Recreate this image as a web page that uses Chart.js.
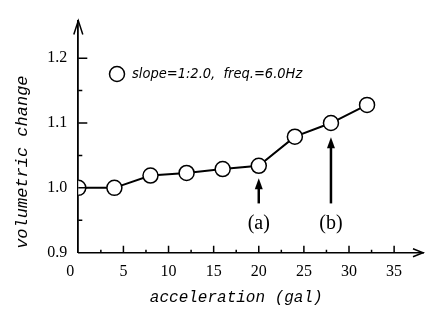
<!DOCTYPE html>
<html>
<head>
<meta charset="utf-8">
<script src="https://cdn.jsdelivr.net/npm/chart.js@4.4.0/dist/chart.umd.min.js"></script>
<style>
  html, body { margin: 0; padding: 0; background: #fff; }
  #wrap { width: 432px; height: 312px; }
</style>
</head>
<body>
<div id="wrap"><canvas id="volChart" width="432" height="312"></canvas></div>
<script>
// volumetric change vs input acceleration (slope 1:2.0, 6.0 Hz)
const accel = [0, 4, 8, 12, 16, 20, 24, 28, 32];
const volChange = [1.000, 1.000, 1.019, 1.023, 1.029, 1.034, 1.079, 1.100, 1.128];

const xMajor = [0, 5, 10, 15, 20, 25, 30, 35];
const xLabels = ['0', '5', '10', '15', '20', '25', '30', '35'];
const xMinor = [2.5, 7.5, 12.5, 17.5, 22.5, 27.5, 32.5];

const yMajor = [0.9, 1.0, 1.1, 1.2];
const yLabels = ['0.9', '1.0', '1.1', '1.2'];
const yMinor = [0.95, 1.05, 1.15];

// arrows pointing at (a) and (b)
const calloutX = [20, 28];
const calloutTail = [0.976, 0.976];
const calloutTip = [1.015, 1.078];
const calloutText = ['(a)', '(b)'];
const calloutTextY = 0.945;

const seriesLabel = 'slope=1:2.0,  freq.=6.0Hz';

const axisDecor = {
  id: 'axisDecor',
  afterDraw(chart) {
    const { ctx, chartArea: a, scales: { x, y } } = chart;
    ctx.save();
    ctx.strokeStyle = '#000';
    ctx.fillStyle = '#000';
    ctx.lineWidth = 1.5;

    // tick marks drawn inward
    ctx.beginPath();
    xMajor.slice(1).forEach(v => { const px = x.getPixelForValue(v); ctx.moveTo(px, a.bottom); ctx.lineTo(px, a.bottom - 7); });
    xMinor.forEach(v => { const px = x.getPixelForValue(v); ctx.moveTo(px, a.bottom); ctx.lineTo(px, a.bottom - 3); });
    yMajor.slice(1).forEach(v => { const py = y.getPixelForValue(v); ctx.moveTo(a.left, py); ctx.lineTo(a.left + 9, py); });
    yMinor.forEach(v => { const py = y.getPixelForValue(v); ctx.moveTo(a.left, py); ctx.lineTo(a.left + 4, py); });
    ctx.stroke();

    // open arrowheads at the axis ends
    ctx.beginPath();
    ctx.moveTo(a.left - 4.5, a.top + 14); ctx.lineTo(a.left, a.top); ctx.lineTo(a.left + 4.5, a.top + 14);
    ctx.moveTo(a.right - 10, a.bottom - 4); ctx.lineTo(a.right, a.bottom); ctx.lineTo(a.right - 10, a.bottom + 4);
    ctx.stroke();

    // callout arrows
    calloutX.forEach((v, i) => {
      const px = x.getPixelForValue(v);
      const y0 = y.getPixelForValue(calloutTail[i]);
      const y1 = y.getPixelForValue(calloutTip[i]);
      ctx.lineWidth = 2.5;
      ctx.beginPath();
      ctx.moveTo(px, y0); ctx.lineTo(px, y1 + 10);
      ctx.stroke();
      ctx.beginPath();
      ctx.moveTo(px, y1); ctx.lineTo(px - 4, y1 + 11); ctx.lineTo(px + 4, y1 + 11); ctx.closePath();
      ctx.fill();
      ctx.font = '20px "Liberation Serif", serif';
      ctx.textAlign = 'center';
      ctx.textBaseline = 'middle';
      ctx.fillText(calloutText[i], px, y.getPixelForValue(calloutTextY));
    });

    // legend entry inside the plot
    ctx.lineWidth = 1.5;
    ctx.fillStyle = '#fff';
    ctx.beginPath();
    ctx.arc(117, 74, 7.5, 0, Math.PI * 2);
    ctx.fill();
    ctx.stroke();
    ctx.fillStyle = '#000';
    ctx.font = 'italic 14.5px "Liberation Sans Narrow", "DejaVu Sans Condensed", sans-serif';
    ctx.textAlign = 'left';
    ctx.textBaseline = 'middle';
    ctx.fillText(chart.data.datasets[0].label, 132, 74);
    ctx.restore();
  }
};

const ctx = document.getElementById('volChart').getContext('2d');
new Chart(ctx, {
  type: 'line',
  data: {
    datasets: [{
      label: seriesLabel,
      data: accel.map((v, i) => ({ x: v, y: volChange[i] })),
      borderColor: '#000',
      borderWidth: 2,
      pointRadius: 7.5,
      pointBorderWidth: 1.5,
      pointBackgroundColor: '#fff',
      pointBorderColor: '#000',
      tension: 0
    }]
  },
  options: {
    responsive: false,
    animation: false,
    layout: { padding: { top: 12, right: 2, left: 0, bottom: 0 } },
    plugins: { legend: { display: false }, tooltip: { enabled: false } },
    scales: {
      x: {
        type: 'linear',
        min: 0,
        max: 38.2,
        afterBuildTicks: s => { s.ticks = xMajor.map(v => ({ value: v })); },
        afterFit: s => { s.height = 59.3; },
        grid: { display: false, drawTicks: false },
        border: { display: true, color: '#000', width: 1.5 },
        ticks: {
          autoSkip: false,
          maxRotation: 0,
          padding: 9,
          color: '#000',
          font: { family: '"Liberation Serif", serif', size: 16 },
          callback: v => {
            const lbl = xLabels[xMajor.indexOf(v)];
            return v === 0 ? lbl + '\u2002\u2002' : lbl;
          }
        },
        title: {
          display: true,
          text: 'acceleration (gal)   ',
          color: '#000',
          padding: { top: 0, bottom: 4.4 },
          font: { family: '"Liberation Mono", monospace', size: 16, style: 'italic' }
        }
      },
      y: {
        min: 0.9,
        max: 1.258,
        afterBuildTicks: s => { s.ticks = yMajor.map(v => ({ value: v })); },
        afterFit: s => { s.width = 78.3; },
        grid: { display: false, drawTicks: false },
        border: { display: true, color: '#000', width: 1.8 },
        ticks: {
          padding: 11,
          color: '#000',
          font: { family: '"Liberation Serif", serif', size: 16 },
          callback: v => yLabels[yMajor.findIndex(m => Math.abs(m - v) < 1e-9)]
        },
        title: {
          display: true,
          text: 'volumetric change     ',
          color: '#000',
          padding: { top: 12.4, bottom: 0 },
          font: { family: '"Liberation Mono", monospace', size: 17, style: 'italic' }
        }
      }
    }
  },
  plugins: [axisDecor]
});
</script>
</body>
</html>
